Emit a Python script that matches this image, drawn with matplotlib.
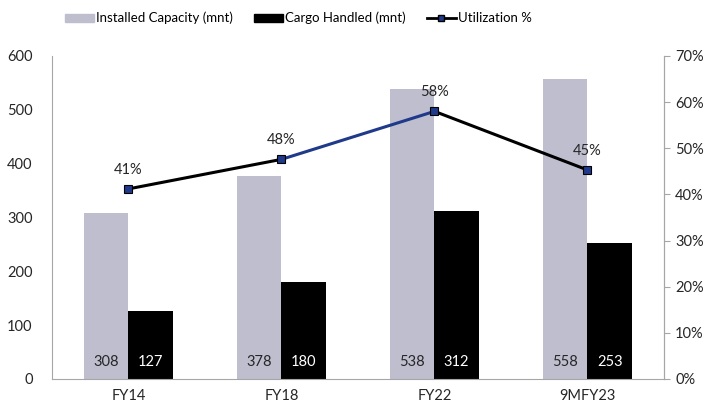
import matplotlib.pyplot as plt
import numpy as np
from matplotlib.lines import Line2D
from matplotlib.patches import Patch

# --- data ---
categories = ["FY14", "FY18", "FY22", "9MFY23"]
capacity = [308, 378, 538, 558]
cargo = [127, 180, 312, 253]
utilization = [41.2, 47.6, 58.0, 45.3]
util_labels = ["41%", "48%", "58%", "45%"]

CAP_COLOR = "#BFBECF"
NAVY = "#1F3A8A"
GRID_GRAY = "#A6A6A6"
TXT = "#262626"

plt.rcParams['font.family'] = ['Lato', 'DejaVu Sans']

fig = plt.figure(figsize=(7.09, 4.04), dpi=100)
ax = fig.add_axes([0.0733, 0.0619, 0.8632, 0.7995])
x = np.arange(len(categories))
w = 0.29

ax.bar(x - w / 2, capacity, width=w, color=CAP_COLOR)
ax.bar(x + w / 2, cargo, width=w, color="black")
for i in range(len(x)):
    ax.text(x[i] - w / 2, 32, str(capacity[i]), ha='center', va='center', fontsize=10.5, color=TXT)
    ax.text(x[i] + w / 2, 32, str(cargo[i]), ha='center', va='center', fontsize=10.5, color='white')

ax.set_xlim(-0.5, len(x) - 0.5)
ax.set_ylim(0, 600)
ax.set_yticks(range(0, 601, 100))
ax.set_xticks(x)
ax.set_xticklabels(categories)
ax.tick_params(axis='x', length=0, pad=7, labelsize=10.5, colors=TXT)
ax.tick_params(axis='y', length=0, pad=14, labelsize=10.5, colors=TXT)
ax.spines['top'].set_visible(False)
for s in ['left', 'bottom', 'right']:
    ax.spines[s].set_color(GRID_GRAY)

ax2 = ax.twinx()
ax2.set_ylim(0, 70)
ax2.set_yticks(range(0, 71, 10))
ax2.set_yticklabels([f"{v}%" for v in range(0, 71, 10)])
ax2.tick_params(axis='y', length=4, color=GRID_GRAY, labelsize=10.5, colors=TXT, pad=4)
ax2.tick_params(axis='y', color=GRID_GRAY)
for s in ['top', 'left', 'bottom']:
    ax2.spines[s].set_visible(False)
ax2.spines['right'].set_color(GRID_GRAY)

# line colour changes on the FY18 -> FY22 segment
seg_colors = ["black", NAVY, "black"]
for i in range(len(x) - 1):
    ax2.plot(x[i:i + 2], utilization[i:i + 2], color=seg_colors[i], lw=2.2, zorder=3)
ax2.plot(x, utilization, ls='none', marker='s', ms=5.5, mfc=NAVY, mec='black', mew=0.8, zorder=4)
for i in range(len(x)):
    ax2.text(x[i], utilization[i] + 4.2, util_labels[i], ha='center', va='center', fontsize=10.5, color=TXT)

handles = [
    Patch(color=CAP_COLOR, label="Installed Capacity (mnt)"),
    Patch(color="black", label="Cargo Handled (mnt)"),
    Line2D([], [], color="black", lw=2, marker='s', ms=5, mfc=NAVY, mec='black', label="Utilization %"),
]
fig.legend(handles=handles, loc='center left', bbox_to_anchor=(0.075, 0.955), ncol=3, frameon=False,
           fontsize=9.5, handlelength=2.2, handleheight=0.5, columnspacing=1.6, handletextpad=0.15)

fig.savefig("out.png", dpi=100)
